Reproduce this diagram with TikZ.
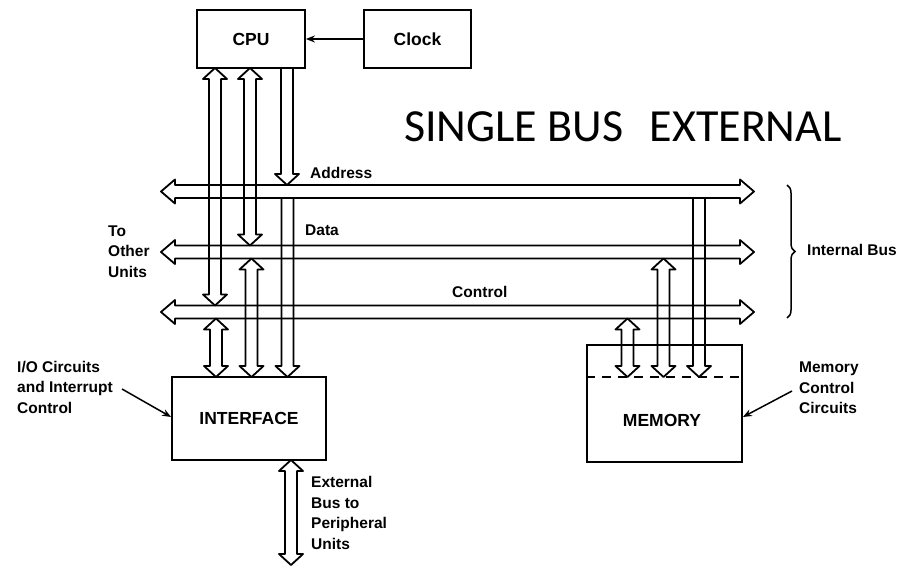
\documentclass[tikz,border=0pt]{standalone}
\usepackage{fontspec}
\setmainfont{Liberation Sans}
\newfontfamily\titlefont{Carlito}
\usetikzlibrary{arrows.meta,decorations.pathreplacing}
\newcommand{\vboth}[3]{%
  \draw[busline] (#1,#2) -- (#1+12,#2+11) -- (#1+6,#2+11) -- (#1+6,#3-11) -- (#1+12,#3-11) -- (#1,#3)
    -- (#1-12,#3-11) -- (#1-6,#3-11) -- (#1-6,#2+11) -- (#1-12,#2+11) -- cycle;}
\newcommand{\vdown}[3]{%
  \draw[busline] (#1-6,#2) -- (#1-6,#3-11) -- (#1-12,#3-11) -- (#1,#3) -- (#1+12,#3-11) -- (#1+6,#3-11) -- (#1+6,#2);}
\newcommand{\hbus}[3]{%
  \draw[busline] (#2,#1) -- (#2+14,#1-12) -- (#2+14,#1-6.5) -- (#3-14,#1-6.5) -- (#3-14,#1-12) -- (#3,#1)
    -- (#3-14,#1+12) -- (#3-14,#1+6.5) -- (#2+14,#1+6.5) -- (#2+14,#1+12) -- cycle;}
\begin{document}
\begin{tikzpicture}[x=1pt,y=-1pt,
  busline/.style={line width=1.8pt,line join=round},
  box/.style={draw,line width=1.8pt,inner sep=0pt,font=\fontsize{17.5}{20}\selectfont\bfseries},
  lbl/.style={inner sep=0pt,anchor=west,align=left,font=\fontsize{15.5}{20.5}\selectfont\bfseries},
  pointer/.style={line width=1.5pt,-{Stealth[length=9pt,width=7pt]}}]
\useasboundingbox (0,0) rectangle (904,569);
% boxes
\node[box,minimum width=108pt,minimum height=58pt] (cpu) at (251,39) {CPU};
\node[box,minimum width=107pt,minimum height=58pt] (clock) at (417.5,39) {Clock};
\node[box,minimum width=154pt,minimum height=83pt] (iface) at (249,418.5) {INTERFACE};
\node[box,minimum width=155pt,minimum height=117pt,text height=0pt] (mem) at (664.5,403.5) {};
\node[inner sep=0pt,font=\fontsize{17.5}{20}\selectfont\bfseries] (memlbl) at (662,420) {MEMORY};
\draw[line width=1.5pt,dash pattern=on 9pt off 7pt] (mem.west |- 0,377) -- (mem.east |- 0,377);
\draw[pointer] (clock.west) -- (cpu.east);
% buses
\hbus{191.5}{161}{754}
\hbus{252}{161}{754}
\hbus{312}{161}{754}
% CPU arrows
\vboth{215}{68}{305.5}
\vboth{250}{68}{245.5}
\vdown{287}{68}{185}
% interface arrows
\vboth{216}{318.5}{377}
\vboth{251.5}{258.5}{377}
\vdown{287.5}{198}{377}
% memory arrows
\vboth{627.5}{318.5}{377}
\vboth{663.5}{258.5}{377}
\vdown{699}{198}{377}
% external bus
\vboth{291}{460}{565}
% brace
\draw[line width=1.5pt,decorate,decoration={brace,amplitude=8pt}] (787,185) -- (787,318);
% labels
\node[lbl] (addr) at (310,173) {Address};
\node[lbl] (data) at (305,230) {Data};
\node[lbl] (ctrl) at (452,292) {Control};
\node[lbl] (other) at (108,251.5) {To\\Other\\Units};
\node[lbl] (intbus) at (807,250) {Internal Bus};
\node[lbl] (io) at (17,387) {I/O Circuits\\and Interrupt\\Control};
\node[lbl] (memctl) at (799,388) {Memory\\Control\\Circuits};
\node[lbl] (ext) at (311,513) {External\\Bus to\\Peripheral\\Units};
\coordinate (ioarr) at (122,389);
\coordinate (memarr) at (792,391);
\draw[pointer] (ioarr) -- (iface.west |- 0,417);
\draw[pointer] (memarr) -- (mem.east |- 0,417);
% title
\node[inner sep=0pt,anchor=base west,font=\titlefont\fontsize{46}{55}\selectfont] (title) at (404,142) {SINGLE BUS\hspace{16pt} EXTERNAL};
\end{tikzpicture}
\end{document}
